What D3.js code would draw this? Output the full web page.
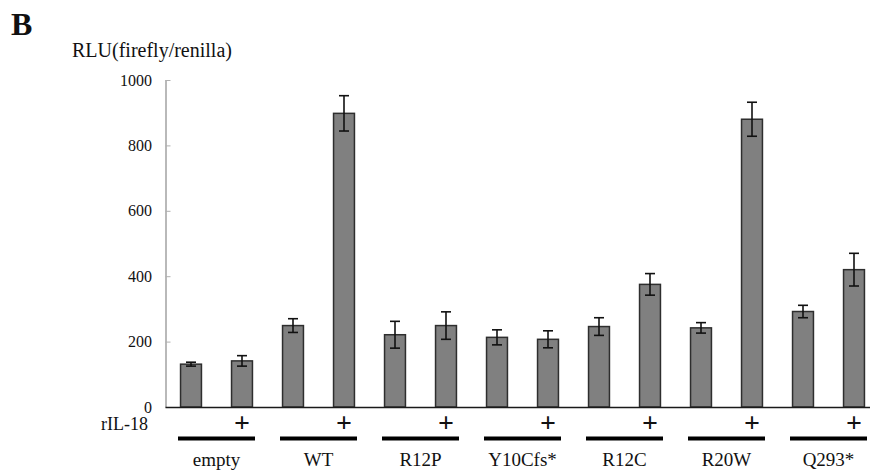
<!DOCTYPE html>
<html>
<head>
<meta charset="utf-8">
<script src="https://cdn.jsdelivr.net/npm/d3@7"></script>
<style>
  html, body { margin: 0; padding: 0; background: #fff; }
  svg { display: block; }
</style>
</head>
<body>
<svg id="chart" width="870" height="471"></svg>
<script>
// ---- data ----
const groups = ["empty", "WT", "R12P", "Y10Cfs*", "R12C", "R20W", "Q293*"];
const minusValues = [131, 249, 221, 213, 246, 242, 292];
const minusErrors = [6, 21, 41, 23, 27, 16, 19];
const plusValues = [141, 898, 249, 207, 375, 880, 420];
const plusErrors = [16, 54, 42, 26, 33, 52, 50];
const yTicks = [0, 200, 400, 600, 800, 1000];
const treatmentLabel = "rIL-18";
const yTitle = "RLU(firefly/renilla)";
const panelLetter = "B";

const SERIF = "'Liberation Serif', 'Times New Roman', Times, serif";

// flatten bars
const bars = [];
groups.forEach((g, i) => {
  bars.push({ key: g + "-", group: g, treat: "-", value: minusValues[i], err: minusErrors[i] });
  bars.push({ key: g + "+", group: g, treat: "+", value: plusValues[i], err: plusErrors[i] });
});

const svg = d3.select("#chart").attr("font-family", SERIF);
const x0 = 165.5, x1 = 879.5, yTop = 80, yBottom = 407;

const x = d3.scalePoint().domain(bars.map(d => d.key)).range([x0, x1]).padding(0.5);
const barW = x.step() * 0.41;
const y = d3.scaleLinear().domain([0, 1000]).range([yBottom, yTop]);

function txt(sel) { return sel.attr("font-family", SERIF).attr("fill", "#111"); }

// panel letter
txt(svg.append("text")).attr("x", 11).attr("y", 35)
  .attr("font-size", 32).attr("font-weight", "bold").text(panelLetter);

// y title
txt(svg.append("text")).attr("x", 72).attr("y", 57)
  .attr("font-size", 20).text(yTitle);

// y axis
const yAxis = d3.axisRight(y).tickValues(yTicks).tickSize(5).tickFormat("");
const gy = svg.append("g").attr("transform", `translate(${x0},0)`).call(yAxis);
gy.select(".domain").attr("stroke", "#8a8a8a").attr("stroke-width", 1.2)
  .attr("d", `M0.5,${yTop}V${yBottom}`);
gy.selectAll(".tick line").attr("stroke", "#b0b0b0").attr("stroke-width", 1);

// y tick labels
txt(svg.append("g").selectAll("text").data(yTicks).join("text"))
  .attr("x", 152).attr("y", d => y(d)).attr("dy", "0.35em")
  .attr("text-anchor", "end").attr("font-size", 16).text(d => d);

// bars
svg.append("g").selectAll("rect").data(bars).join("rect")
  .attr("x", d => x(d.key) - barW / 2)
  .attr("y", d => y(d.value))
  .attr("width", barW)
  .attr("height", d => y(0) - y(d.value))
  .attr("fill", "#808080")
  .attr("stroke", "#2e2e2e")
  .attr("stroke-width", 1.5);

// error bars
const eb = svg.append("g").attr("stroke", "#111").attr("stroke-width", 1.6);
bars.forEach(d => {
  const cx = x(d.key);
  const capW = 5;
  eb.append("line").attr("x1", cx).attr("x2", cx).attr("y1", y(d.value + d.err)).attr("y2", y(d.value - d.err));
  eb.append("line").attr("x1", cx - capW).attr("x2", cx + capW).attr("y1", y(d.value + d.err)).attr("y2", y(d.value + d.err));
  eb.append("line").attr("x1", cx - capW).attr("x2", cx + capW).attr("y1", y(d.value - d.err)).attr("y2", y(d.value - d.err));
});

// x axis baseline
svg.append("line").attr("x1", x0).attr("x2", 880).attr("y1", yBottom + 0.5).attr("y2", yBottom + 0.5)
  .attr("stroke", "#1a1a1a").attr("stroke-width", 1.5);

// treatment row
txt(svg.append("text")).attr("x", 148).attr("y", 430).attr("text-anchor", "end")
  .attr("font-size", 18).text(treatmentLabel);
txt(svg.append("g").selectAll("text").data(bars.filter(d => d.treat === "+")).join("text"))
  .attr("x", d => x(d.key)).attr("y", 432).attr("text-anchor", "middle")
  .attr("font-size", 28).attr("font-weight", "bold").text("+");

// group underlines and labels
groups.forEach(g => {
  const a = x(g + "-"), b = x(g + "+");
  svg.append("line").attr("x1", a - 13).attr("x2", b + 13).attr("y1", 438.5).attr("y2", 438.5)
    .attr("stroke", "#000").attr("stroke-width", 4);
  txt(svg.append("text")).attr("x", (a + b) / 2).attr("y", 466).attr("text-anchor", "middle")
    .attr("font-size", 19).text(g);
});
</script>
</body>
</html>
